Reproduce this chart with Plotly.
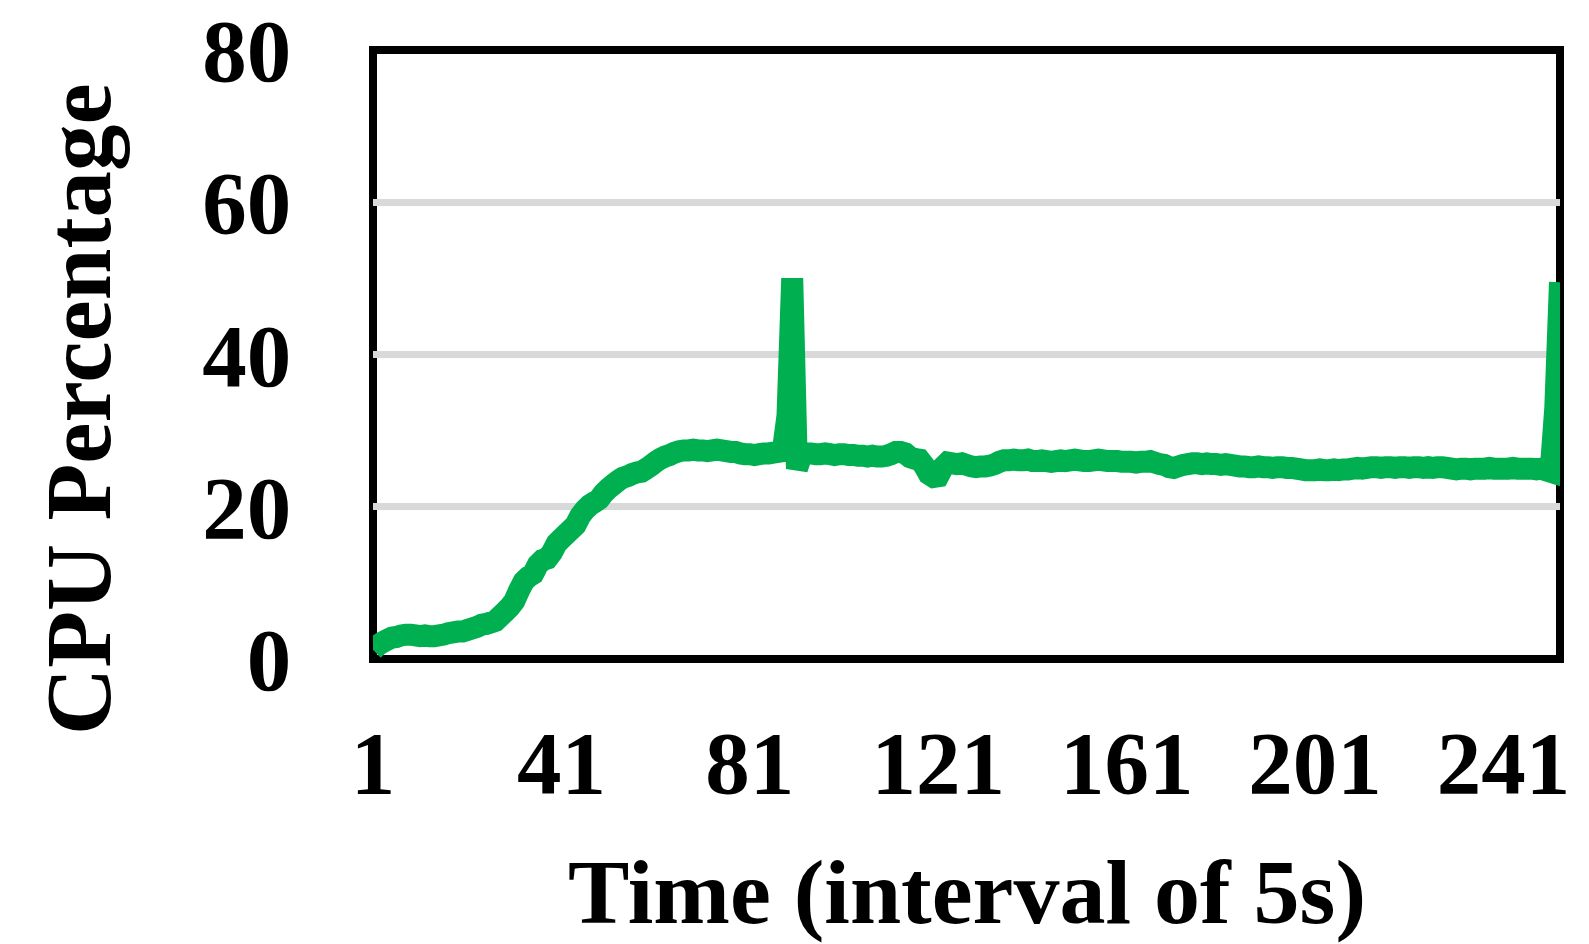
import plotly.graph_objects as go

# CPU usage sampled every 5 seconds (sample index 1..253)
cpu_percent = [
    1.2, 1.8, 2.2, 2.5, 2.8, 2.9, 3.1, 3.2, 3.2, 3.1,
    3.0, 3.1, 3.0, 3.0, 3.1, 3.2, 3.4, 3.5, 3.6, 3.6,
    3.8, 4.0, 4.2, 4.5, 4.6, 4.8, 5.0, 5.6, 6.2, 6.8,
    7.6, 9.0, 10.2, 10.8, 11.2, 12.4, 13.0, 13.2, 14.0, 15.2,
    15.8, 16.4, 17.0, 17.6, 18.8, 19.6, 20.2, 20.6, 21.0, 21.8,
    22.4, 22.9, 23.4, 23.8, 24.0, 24.3, 24.5, 24.6, 25.0, 25.4,
    25.9, 26.3, 26.6, 26.8, 27.1, 27.3, 27.4, 27.4, 27.5, 27.4,
    27.4, 27.3, 27.4, 27.5, 27.4, 27.3, 27.2, 27.2, 27.0, 26.9,
    26.9, 26.8, 26.9, 27.0, 27.0, 27.1, 27.2, 27.3, 32.0, 50.0,
    25.0, 26.8, 27.0, 27.0, 26.9, 26.9, 27.0, 26.9, 26.8, 26.9,
    26.9, 26.8, 26.8, 26.7, 26.7, 26.6, 26.7, 26.6, 26.6, 26.7,
    26.9, 27.2, 27.2, 27.0, 26.5, 26.3, 26.2, 25.4, 24.3, 23.9,
    24.0, 25.2, 25.8, 25.7, 25.6, 25.7, 25.5, 25.3, 25.2, 25.3,
    25.3, 25.4, 25.6, 25.9, 26.1, 26.1, 26.2, 26.1, 26.1, 26.2,
    26.0, 26.0, 26.1, 26.0, 25.9, 26.0, 26.1, 26.0, 26.1, 26.2,
    26.1, 26.0, 26.0, 26.1, 26.2, 26.1, 26.0, 26.0, 26.0, 25.9,
    25.9, 25.9, 25.8, 25.9, 25.9, 26.0, 25.8, 25.6, 25.5, 25.2,
    25.1, 25.3, 25.5, 25.6, 25.7, 25.7, 25.6, 25.7, 25.6, 25.6,
    25.5, 25.6, 25.5, 25.4, 25.3, 25.3, 25.2, 25.2, 25.3, 25.2,
    25.2, 25.1, 25.2, 25.2, 25.1, 25.1, 25.0, 24.9, 24.8, 24.8,
    24.8, 24.9, 24.8, 24.8, 24.9, 24.8, 24.9, 24.9, 25.0, 25.1,
    25.0, 25.1, 25.2, 25.2, 25.1, 25.2, 25.2, 25.1, 25.2, 25.2,
    25.1, 25.2, 25.2, 25.1, 25.2, 25.1, 25.2, 25.2, 25.1, 25.0,
    24.9, 25.0, 25.0, 24.9, 25.0, 25.0, 25.0, 25.1, 25.0, 25.0,
    25.0, 25.0, 25.1, 25.0, 25.0, 25.0, 25.0, 24.9, 25.0, 24.8,
    24.6, 33.0, 49.5,
]
sample_index = list(range(1, len(cpu_percent) + 1))

x_tick_values = [1, 41, 81, 121, 161, 201, 241]
x_tick_labels = ["1", "41", "81", "121", "161", "201", "241"]
y_tick_values = [0, 20, 40, 60, 80]

x_title = "Time (interval of 5s)"
y_title = "CPU Percentage"

FONT = "Liberation Serif"
GREEN = "#00B050"

fig = go.Figure()
fig.add_trace(go.Scatter(
    x=sample_index,
    y=cpu_percent,
    mode="lines",
    line=dict(color=GREEN, width=22, simplify=False),
    showlegend=False,
    hoverinfo="skip",
))

fig.update_layout(
    width=1589,
    height=944,
    margin=dict(l=373, r=29, t=50, b=285, autoexpand=False),
    paper_bgcolor="white",
    plot_bgcolor="white",
    xaxis=dict(
        range=[1, len(cpu_percent)],
        tickmode="array",
        tickvals=x_tick_values,
        ticktext=x_tick_labels,
        showgrid=False,
        zeroline=False,
        showline=False,
        automargin=False,
        ticks="outside",
        ticklen=26,
        tickcolor="rgba(0,0,0,0)",
        tickfont=dict(family=FONT, size=89, color="black", weight="bold"),
    ),
    yaxis=dict(
        range=[0, 80],
        tickmode="array",
        tickvals=y_tick_values,
        showgrid=True,
        gridcolor="#D9D9D9",
        gridwidth=7,
        zeroline=False,
        showline=False,
        automargin=False,
        ticks="outside",
        ticklen=63,
        tickcolor="rgba(0,0,0,0)",
        tickfont=dict(family=FONT, size=89, color="black", weight="bold"),
    ),
    shapes=[dict(
        type="rect", xref="paper", yref="paper",
        x0=0, x1=1, y0=0, y1=1,
        line=dict(color="black", width=8),
        fillcolor="rgba(0,0,0,0)",
        layer="between",
    )],
    annotations=[
        dict(
            text=x_title, xref="paper", yref="paper",
            x=0.5, y=-0.383, xanchor="center", yanchor="middle",
            showarrow=False,
            font=dict(family=FONT, size=92, color="black", weight="bold"),
        ),
        dict(
            text=y_title, xref="paper", yref="paper",
            x=-0.248, y=0.41, xanchor="center", yanchor="middle",
            textangle=-90, showarrow=False,
            font=dict(family=FONT, size=93, color="black", weight="bold"),
        ),
    ],
)

fig.write_html("out.html")
